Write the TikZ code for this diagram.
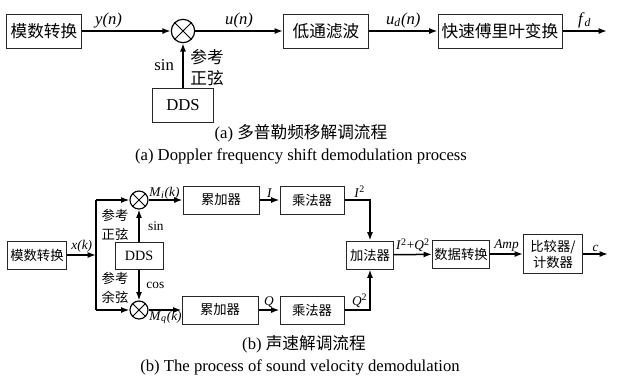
\documentclass[tikz,border=0pt]{standalone}
\usepackage{fontspec}
\setmainfont{Liberation Serif}
\newfontfamily\cjk{Noto Sans CJK SC}
\usetikzlibrary{arrows.meta,positioning}

\begin{document}
\begin{tikzpicture}[x=0.6pt,y=-0.6pt,
	big node/.style={rectangle, draw=black!85, line width=0.6pt, fill=white, font=\cjk\fontsize{10}{12}\selectfont, inner sep=1pt, minimum height=20.4pt, align=center},
	small node/.style={rectangle, draw=black!85, line width=0.6pt, fill=white, font=\cjk\fontsize{8}{9.5}\selectfont, inner sep=1pt, minimum height=16.8pt, align=center},
	mix node/.style={circle, draw=black, line width=0.7pt, inner sep=0pt, path picture={\draw[line width=0.6pt] (path picture bounding box.north west) -- (path picture bounding box.south east) (path picture bounding box.north east) -- (path picture bounding box.south west);}},
	sig/.style={line width=0.9pt, -{Latex[length=5pt,width=3.6pt]}},
	wire/.style={line width=0.9pt},
	big label/.style={font=\rmfamily\fontsize{10}{12}\selectfont, inner sep=1.5pt},
	small label/.style={font=\rmfamily\fontsize{8}{9.5}\selectfont, inner sep=1pt},
	caption/.style={font=\rmfamily\fontsize{10}{12}\selectfont, inner sep=0pt}]
	\useasboundingbox (0,0) rectangle (619,382);
	
	% (a) doppler demodulation
	\node[big node,minimum width=45pt] (adc) at (44,31) {模数转换};
	\node[mix node,minimum size=14pt] (mix) at (183,31) {};
	\node[big node,minimum width=51pt] (lpf) at (326,31) {低通滤波};
	\node[big node,minimum width=74.4pt] (fft) at (500,31) {快速傅里叶变换};
	\node[big node,minimum width=37pt,font=\rmfamily\fontsize{10}{12}\selectfont] (dds) at (183,105) {DDS};
	\coordinate (fout) at (607,31);
	
	\path
	(adc) edge [sig] node[big label,above,pos=0.3] {\textit{y(n)}} (mix)
	(mix) edge [sig] node[big label,above] {\textit{u(n)}} (lpf)
	(lpf) edge [sig] node[big label,above] {\textit{u}\textsubscript{\textit{d}}\textit{(n)}} (fft)
	(fft) edge [sig] node[big label,above] {\textit{f}\textsubscript{\textit{d}}} (fout)
	(dds) edge [sig] node[big label,left,pos=0.5,inner sep=5pt] {sin} node[big label,right,font=\cjk\fontsize{10}{13}\selectfont,align=center,pos=0.45,inner sep=4pt] {参考\\正弦} (mix);
	
	\node[caption] (capa1) at (301,133) {(a) {\cjk 多普勒频移解调流程}};
	\node[caption] (capa2) at (301,156) {(a) Doppler frequency shift demodulation process};
	
	% (b) sound velocity demodulation
	\node[small node,minimum width=36pt] (adc2) at (37,255) {模数转换};
	\coordinate (split) at (96,255);
	\node[mix node,minimum size=10.8pt] (mixi) at (139,200) {};
	\node[mix node,minimum size=10.8pt] (mixq) at (139,310) {};
	\node[small node,minimum width=28.8pt,minimum height=16.2pt,font=\rmfamily\fontsize{8.5}{10}\selectfont] (dds2) at (139,256) {DDS};
	\node[small node,minimum width=45.6pt] (acci) at (221,200) {累加器};
	\node[small node,minimum width=38.4pt] (muli) at (312,200) {乘法器};
	\node[small node,minimum width=45.6pt] (accq) at (220,310) {累加器};
	\node[small node,minimum width=38.4pt] (mulq) at (312,310) {乘法器};
	\node[small node,minimum width=28.2pt] (add) at (370,255) {加法器};
	\node[small node,minimum width=34.2pt] (conv) at (461,254) {数据转换};
	\node[small node,minimum width=35.4pt,minimum height=23.4pt] (cmp) at (553,254) {比较器/\\计数器};
	\coordinate (cout) at (608,254);
	
	\draw[sig] (adc2) -- node[small label,above] {\textit{x(k)}} (split);
	\draw[wire] (split |- mixi) -- (split |- mixq);
	\draw[sig] (split |- mixi) -- (mixi);
	\draw[sig] (split |- mixq) -- (mixq);
	\path
	(dds2) edge [sig] node[small label,right,pos=0.5,inner sep=5pt] {sin} (mixi)
	(dds2) edge [sig] node[small label,right,pos=0.5,inner sep=4pt] {cos} (mixq)
	(mixi) edge [sig] node[small label,above right,pos=0,inner sep=0pt] {\textit{M}\textsubscript{\textit{i}}\textit{(k)}} (acci)
	(mixq) edge [sig] node[small label,below right,pos=0,inner sep=0pt] {\textit{M}\textsubscript{\textit{q}}\textit{(k)}} (accq)
	(acci) edge [sig] node[small label,above] {\textit{I}} (muli)
	(accq) edge [sig] node[small label,above] {\textit{Q}} (mulq)
	(add) edge [sig] node[small label,above] {\textit{I}\textsuperscript{2}+\textit{Q}\textsuperscript{2}} (conv)
	(conv) edge [sig] node[small label,above] {\textit{Amp}} (cmp)
	(cmp) edge [sig] node[small label,above] {\textit{c}} (cout);
	\draw[sig] (muli) -| node[small label,above,pos=0.3] {\textit{I}\textsuperscript{2}} (add);
	\draw[sig] (mulq) -| node[small label,above,pos=0.3] {\textit{Q}\textsuperscript{2}} (add);
	\node[small label,font=\cjk\fontsize{8}{11}\selectfont,align=center] (refsin) at (115,225) {参考\\正弦};
	\node[small label,font=\cjk\fontsize{8}{11}\selectfont,align=center] (refcos) at (115,288) {参考\\余弦};
	
	\node[caption] (capb1) at (304,344) {(b) {\cjk 声速解调流程}};
	\node[caption] (capb2) at (300,367) {(b) The process of sound velocity demodulation};
\end{tikzpicture}
\end{document}
